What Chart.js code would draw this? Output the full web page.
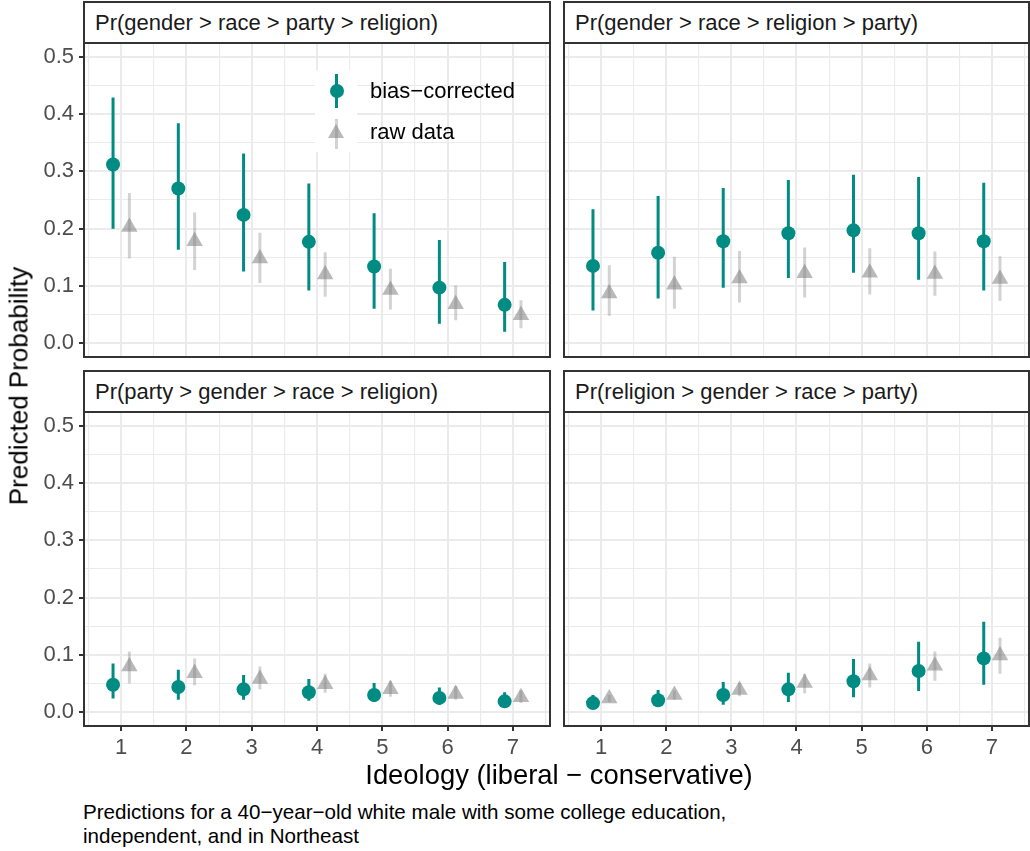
<!DOCTYPE html>
<html>
<head>
<meta charset="utf-8">
<script src="https://cdn.jsdelivr.net/npm/chart.js@4.4.0/dist/chart.umd.min.js"></script>
<style>
  body { margin: 0; background: #fff; font-family: "Liberation Sans", Arial, sans-serif; }
  #wrap { position: relative; width: 1030px; height: 851px; overflow: hidden; background: #fff; }
  canvas { position: absolute; }
  .strip {
    position: absolute; box-sizing: border-box; height: 43px;
    border: 2px solid #333; background: #fff; color: #1a1a1a;
    font-size: 22px; padding-left: 10px;
    display: flex; align-items: center; white-space: nowrap;
  }
  .key { position: absolute; width: 42px; height: 41px; background: #fff; }
  .legtxt { position: absolute; font-size: 22px; color: #000; line-height: 24px; }
  .ytitle {
    position: absolute; left: 19px; top: 386px; font-size: 26px; white-space: nowrap;
    transform: translate(-50%, -50%) rotate(-90deg);
  }
  .xtitle { position: absolute; left: 559px; top: 759px; font-size: 27.4px; transform: translateX(-50%); white-space: nowrap; }
  .caption { position: absolute; left: 83px; top: 800px; font-size: 20.6px; line-height: 24px; white-space: nowrap; }
</style>
</head>
<body>
<div id="wrap">
  <canvas id="c1" width="551" height="316" style="left:0;top:42px"></canvas>
  <canvas id="c2" width="467" height="316" style="left:563px;top:42px"></canvas>
  <canvas id="c3" width="551" height="359" style="left:0;top:411px"></canvas>
  <canvas id="c4" width="467" height="359" style="left:563px;top:411px"></canvas>

  <div class="strip" id="s1" style="left:83px;top:1px;width:468px"></div>
  <div class="strip" id="s2" style="left:563px;top:1px;width:467px"></div>
  <div class="strip" id="s3" style="left:83px;top:370px;width:468px"></div>
  <div class="strip" id="s4" style="left:563px;top:370px;width:467px"></div>

  <!-- legend inside first panel -->
  <div class="key" style="left:315px;top:70px">
    <div style="position:absolute;left:20px;top:4px;width:3px;height:34px;background:#008b83"></div>
    <div style="position:absolute;left:14.5px;top:13.5px;width:14px;height:14px;border-radius:50%;background:#008b83"></div>
  </div>
  <div class="key" style="left:315px;top:111px">
    <div style="position:absolute;left:20px;top:8px;width:3px;height:30px;background:rgba(128,128,128,0.35)"></div>
    <div style="position:absolute;left:13px;top:13px;width:0;height:0;border-left:8.5px solid transparent;border-right:8.5px solid transparent;border-bottom:14px solid rgba(128,128,128,0.55)"></div>
  </div>
  <div class="legtxt" style="left:370px;top:79px">bias−corrected</div>
  <div class="legtxt" style="left:370px;top:120px">raw data</div>

  <div class="ytitle">Predicted Probability</div>
  <div class="xtitle">Ideology (liberal − conservative)</div>
  <div class="caption">Predictions for a 40−year−old white male with some college education,<br>independent, and in Northeast</div>
</div>

<script>
// ideology scale positions
const ideology = [1, 2, 3, 4, 5, 6, 7];
const panelTitles = [
  'Pr(gender > race > party > religion)',
  'Pr(gender > race > religion > party)',
  'Pr(party > gender > race > religion)',
  'Pr(religion > gender > race > party)'
];
const xTicks = [0.5, 1, 1.5, 2, 2.5, 3, 3.5, 4, 4.5, 5, 5.5, 6, 6.5, 7, 7.5];
const yTicks = [0, 0.05, 0.1, 0.15, 0.2, 0.25, 0.3, 0.35, 0.4, 0.45, 0.5];

// panel 1: gender > race > party > religion
const p1BiasEst = [0.312, 0.270, 0.224, 0.177, 0.134, 0.097, 0.067];
const p1BiasLo  = [0.200, 0.163, 0.125, 0.092, 0.060, 0.034, 0.020];
const p1BiasHi  = [0.429, 0.384, 0.331, 0.279, 0.227, 0.180, 0.142];
const p1RawEst  = [0.203, 0.178, 0.148, 0.120, 0.093, 0.068, 0.049];
const p1RawLo   = [0.148, 0.128, 0.105, 0.081, 0.059, 0.040, 0.026];
const p1RawHi   = [0.262, 0.228, 0.193, 0.159, 0.130, 0.101, 0.075];

// panel 2: gender > race > religion > party
const p2BiasEst = [0.135, 0.158, 0.178, 0.192, 0.197, 0.192, 0.178];
const p2BiasLo  = [0.057, 0.078, 0.097, 0.114, 0.123, 0.111, 0.092];
const p2BiasHi  = [0.234, 0.257, 0.271, 0.285, 0.294, 0.290, 0.280];
const p2RawEst  = [0.087, 0.102, 0.113, 0.122, 0.123, 0.121, 0.112];
const p2RawLo   = [0.048, 0.060, 0.071, 0.080, 0.085, 0.083, 0.074];
const p2RawHi   = [0.136, 0.151, 0.161, 0.167, 0.166, 0.160, 0.152];

// panel 3: party > gender > race > religion
const p3BiasEst = [0.048, 0.044, 0.040, 0.035, 0.030, 0.025, 0.019];
const p3BiasLo  = [0.024, 0.022, 0.022, 0.020, 0.018, 0.013, 0.011];
const p3BiasHi  = [0.085, 0.074, 0.065, 0.058, 0.051, 0.043, 0.035];
const p3RawEst  = [0.080, 0.068, 0.058, 0.049, 0.040, 0.032, 0.026];
const p3RawLo   = [0.050, 0.047, 0.040, 0.034, 0.027, 0.022, 0.016];
const p3RawHi   = [0.106, 0.094, 0.080, 0.067, 0.055, 0.046, 0.038];

// panel 4: religion > gender > race > party
const p4BiasEst = [0.016, 0.021, 0.030, 0.040, 0.054, 0.072, 0.094];
const p4BiasLo  = [0.007, 0.010, 0.013, 0.018, 0.026, 0.037, 0.048];
const p4BiasHi  = [0.030, 0.039, 0.053, 0.069, 0.093, 0.123, 0.158];
const p4RawEst  = [0.024, 0.030, 0.039, 0.051, 0.064, 0.081, 0.099];
const p4RawLo   = [0.018, 0.022, 0.028, 0.033, 0.043, 0.055, 0.067];
const p4RawHi   = [0.030, 0.038, 0.051, 0.067, 0.085, 0.106, 0.130];

const TEAL = '#008b83';
const GREY_PT = 'rgba(128,128,128,0.55)';
const GREY_BAR = 'rgba(128,128,128,0.35)';
const DODGE = 0.125;
const FONT = '"Liberation Sans", Arial, sans-serif';

const panelBorder = {
  id: 'panelBorder',
  afterDatasetsDraw(chart) {
    const { ctx, chartArea: a } = chart;
    ctx.save();
    ctx.strokeStyle = '#333';
    ctx.lineWidth = 2;
    ctx.strokeRect(a.left, a.top, a.right - a.left, a.bottom - a.top);
    ctx.restore();
  }
};

function points(xs, ys, shift) {
  return xs.map((x, i) => ({ x: x + shift, y: ys[i] }));
}

/* vertical segments lo..hi, broken with null gaps */
function ranges(xs, lo, hi, shift) {
  const out = [];
  xs.forEach((x, i) => {
    out.push({ x: x + shift, y: lo[i] }, { x: x + shift, y: hi[i] }, { x: x + shift, y: null });
  });
  return out;
}

const isMajorX = v => Math.abs(v - Math.round(v)) < 1e-6;
const isMajorY = v => Math.abs(v * 10 - Math.round(v * 10)) < 1e-6;

// no label overhang padding: chart area is fixed by the canvas box
function noPad(s) {
  s.paddingTop = 0; s.paddingBottom = 0; s.paddingLeft = 0; s.paddingRight = 0;
}

function makePanel(id, bias, raw, showX, showY, padLeft) {
  new Chart(document.getElementById(id), {
    type: 'scatter',
    data: {
      datasets: [
        { data: points(ideology, bias[0], -DODGE), pointRadius: 7, pointStyle: 'circle',
          backgroundColor: TEAL, borderWidth: 0 },
        { data: ranges(ideology, bias[1], bias[2], -DODGE), showLine: true, spanGaps: false,
          borderColor: TEAL, borderWidth: 3, pointRadius: 0, borderCapStyle: 'butt' },
        { data: points(ideology, raw[0], DODGE), pointRadius: 9.5, pointStyle: 'triangle',
          backgroundColor: GREY_PT, borderWidth: 0 },
        { data: ranges(ideology, raw[1], raw[2], DODGE), showLine: true, spanGaps: false,
          borderColor: GREY_BAR, borderWidth: 3, pointRadius: 0, borderCapStyle: 'butt' }
      ]
    },
    options: {
      responsive: false,
      devicePixelRatio: 1,
      animation: false,
      events: [],
      layout: { autoPadding: false, padding: { top: 1, right: 1, bottom: showX ? 0 : 1, left: padLeft } },
      plugins: { legend: { display: false }, tooltip: { enabled: false } },
      scales: {
        x: {
          type: 'linear', min: 0.43, max: 7.57,
          afterBuildTicks: s => { s.ticks = xTicks.map(v => ({ value: v })); },
          afterFit: s => { s.height = showX ? 44 : 0; noPad(s); },
          border: { display: false },
          grid: {
            color: '#ebebeb',
            lineWidth: c => isMajorX(c.tick.value) ? 2 : 1.1,
            drawTicks: showX, tickLength: 5, tickWidth: 2,
            tickColor: c => isMajorX(c.tick.value) ? '#333' : 'rgba(0,0,0,0)'
          },
          ticks: {
            display: showX, autoSkip: false, maxRotation: 0, padding: 4,
            color: '#4d4d4d', font: { family: FONT, size: 22 },
            callback: v => isMajorX(v) ? String(Math.round(v)) : ''
          }
        },
        y: {
          type: 'linear', min: -0.024, max: 0.524,
          afterBuildTicks: s => { s.ticks = yTicks.map(v => ({ value: v })); },
          afterFit: s => { s.width = showY ? 84 : 0; noPad(s); },
          border: { display: false },
          grid: {
            color: '#ebebeb',
            lineWidth: c => isMajorY(c.tick.value) ? 2 : 1.1,
            drawTicks: showY, tickLength: 5, tickWidth: 2,
            tickColor: c => isMajorY(c.tick.value) ? '#333' : 'rgba(0,0,0,0)'
          },
          ticks: {
            display: showY, autoSkip: false, padding: 5,
            color: '#4d4d4d', font: { family: FONT, size: 22 },
            callback: v => isMajorY(v) ? v.toFixed(1) : ''
          }
        }
      }
    },
    plugins: [panelBorder]
  });
}

window.addEventListener('load', () => {
  ['s1', 's2', 's3', 's4'].forEach((id, i) => { document.getElementById(id).textContent = panelTitles[i]; });

  makePanel('c1', [p1BiasEst, p1BiasLo, p1BiasHi], [p1RawEst, p1RawLo, p1RawHi], false, true, 0);
  makePanel('c2', [p2BiasEst, p2BiasLo, p2BiasHi], [p2RawEst, p2RawLo, p2RawHi], false, false, 1);
  makePanel('c3', [p3BiasEst, p3BiasLo, p3BiasHi], [p3RawEst, p3RawLo, p3RawHi], true, true, 0);
  makePanel('c4', [p4BiasEst, p4BiasLo, p4BiasHi], [p4RawEst, p4RawLo, p4RawHi], true, false, 1);
});
</script>
</body>
</html>
